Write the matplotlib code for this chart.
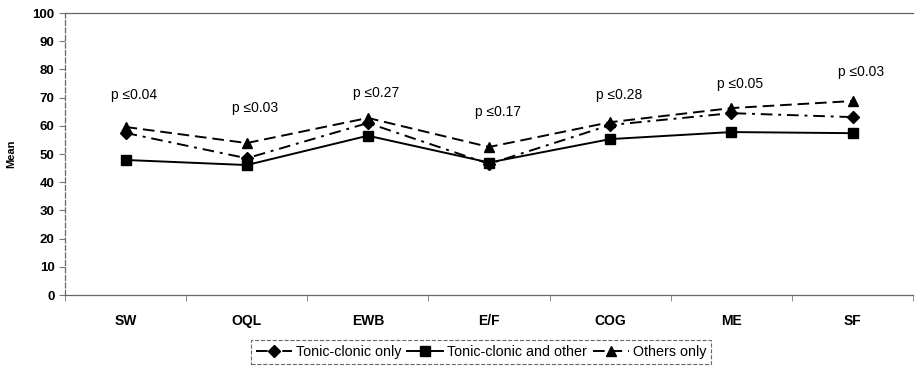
import matplotlib
matplotlib.use("Agg")
import matplotlib.pyplot as plt
import numpy as np

plt.rcParams["font.family"] = ["Liberation Sans", "DejaVu Sans"]

categories = ["SW", "OQL", "EWB", "E/F", "COG", "ME", "SF"]
tonic_only = [57.5, 48.5, 61.0, 46.5, 60.3, 64.5, 63.1]
tonic_other = [47.9, 46.1, 56.5, 47.0, 55.3, 57.8, 57.4]
others_only = [59.6, 53.9, 62.8, 52.5, 61.3, 66.3, 68.8]
p_labels = ["p \u22640.04", "p \u22640.03", "p \u22640.27", "p \u22640.17",
            "p \u22640.28", "p \u22640.05", "p \u22640.03"]
p_label_y = [71, 66.5, 71.5, 65, 71, 75, 79]

fig = plt.figure(figsize=(9.15, 3.73), dpi=100)
ax = fig.add_axes([0.071, 0.209, 0.927, 0.756])

x = np.arange(len(categories))
ax.plot(x, tonic_only, color="black", linestyle=(0, (6, 3, 1.5, 3)), lw=1.4,
        marker="D", markersize=6, label="Tonic-clonic only")
ax.plot(x, tonic_other, color="black", linestyle="-", lw=1.4,
        marker="s", markersize=7, label="Tonic-clonic and other")
ax.plot(x, others_only, color="black", linestyle=(0, (6, 3)), lw=1.4,
        marker="^", markersize=7, label="Others only")

for xi, (lbl, yv) in enumerate(zip(p_labels, p_label_y)):
    ax.text(xi + 0.07, yv, lbl, ha="center", va="center", fontsize=10)

ax.set_xlim(-0.5, 6.5)
ax.set_ylim(0, 100)
ax.set_yticks(range(0, 101, 10))
ax.set_xticks(x)
ax.set_xticklabels(categories, fontsize=10, fontweight="bold")
ax.set_xticks(np.arange(-0.5, 6.6, 1), minor=True)
ax.tick_params(axis="x", which="major", length=0, pad=14)
ax.tick_params(axis="x", which="minor", length=4, color="#777777")
ax.tick_params(axis="y", length=4, color="#777777", labelsize=9.5)
for t in ax.get_yticklabels():
    t.set_fontweight("bold")
ax.set_ylabel("Mean", fontsize=8, fontweight="bold", labelpad=12)

ax.spines["right"].set_visible(False)
for s in ["left", "top", "bottom"]:
    ax.spines[s].set_color("#666666")
    ax.spines[s].set_linewidth(0.9)
ax.spines["left"].set_linestyle((0, (4, 2)))

leg = fig.legend(loc="center", bbox_to_anchor=(0.526, 0.056), ncol=3,
                 frameon=True, fancybox=False, fontsize=10.3, handlelength=2.5,
                 handletextpad=0.3, columnspacing=0.4, borderpad=0.35)
leg.get_frame().set_edgecolor("#444444")
leg.get_frame().set_linestyle("--")
leg.get_frame().set_linewidth(0.8)

fig.savefig("out.png", dpi=100)
